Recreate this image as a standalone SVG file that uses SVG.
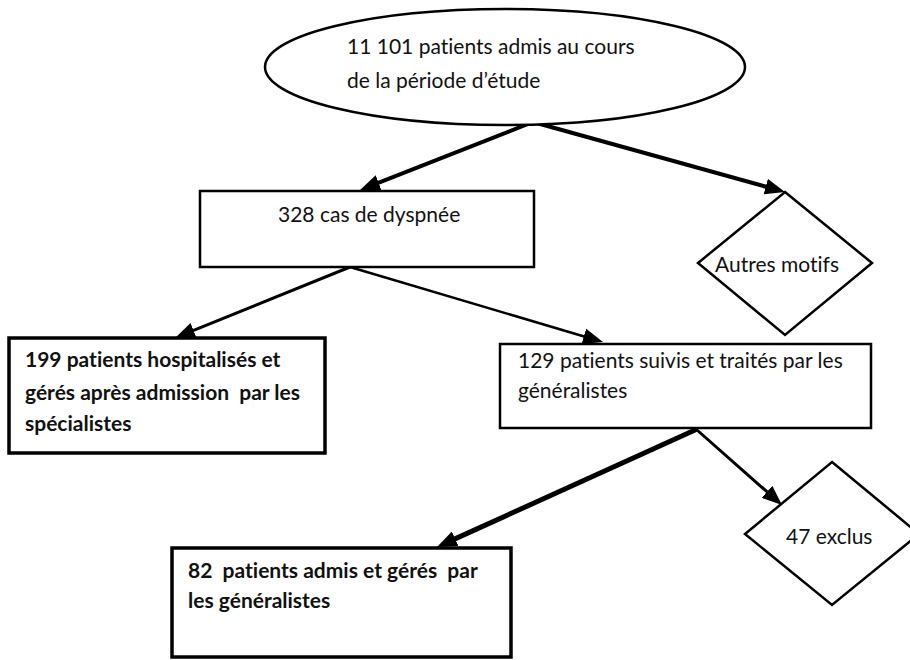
<svg xmlns="http://www.w3.org/2000/svg" width="910" height="660" viewBox="0 0 910 660">
<defs>
<style>
.shape{fill:#fff;stroke:#000;stroke-width:2.5}
.thick{stroke-width:3.5}
.t{font-family:Lato,"Liberation Sans",sans-serif;font-size:21px;fill:#111;white-space:pre;font-variant-ligatures:none}
.b{font-weight:bold}
.c{stroke:#000;fill:none;stroke-linecap:round}
</style>
<marker id="ah" viewBox="0 0 20 16" refX="10" refY="8" markerWidth="20" markerHeight="16" markerUnits="userSpaceOnUse" orient="auto">
<path d="M0,0 L20,8 L0,16 z" fill="#000"/>
</marker>
</defs>
<rect width="910" height="660" fill="#fff"/>
<g id="connectors">
<line class="c" x1="533" y1="122" x2="369.3" y2="186.4" stroke-width="4" marker-end="url(#ah)"/>
<line class="c" x1="533" y1="122" x2="775.4" y2="189.3" stroke-width="4" marker-end="url(#ah)"/>
<line class="c" x1="350" y1="267" x2="184.3" y2="334.2" stroke-width="3" marker-end="url(#ah)"/>
<line class="c" x1="350" y1="267" x2="593.4" y2="339.2" stroke-width="2.5" marker-end="url(#ah)"/>
<line class="c" x1="695" y1="430" x2="446.1" y2="542.9" stroke-width="5" marker-end="url(#ah)"/>
<line class="c" x1="697" y1="430" x2="774.5" y2="498.4" stroke-width="3" marker-end="url(#ah)"/>
</g>
<g id="n-admis">
<ellipse class="shape" cx="505" cy="67" rx="240" ry="58"/>
<text class="t" x="347" y="54">11 101 patients admis au cours</text>
<text class="t" x="347" y="88">de la période d’étude</text>
</g>
<g id="n-dyspnee">
<rect class="shape" x="200" y="191" width="334" height="76"/>
<text class="t" x="278" y="222">328 cas de dyspnée</text>
</g>
<g id="n-autres">
<polygon class="shape" points="785,192 872,263 785,335 698,263"/>
<text class="t" x="715" y="272">Autres motifs</text>
</g>
<g id="n-specialistes">
<rect class="shape thick" x="9" y="338" width="316" height="115"/>
<text class="t b" x="25" y="367">199 patients hospitalisés et</text>
<text class="t b" x="25" y="400">gérés après admission  par les</text>
<text class="t b" x="25" y="431">spécialistes</text>
</g>
<g id="n-generalistes">
<rect class="shape" x="500" y="344" width="371" height="84"/>
<text class="t" x="518" y="368">129 patients suivis et traités par les</text>
<text class="t" x="518" y="398">généralistes</text>
</g>
<g id="n-exclus">
<polygon class="shape" points="832,462 919,534 832,605 745,534"/>
<text class="t" x="786" y="544">47 exclus</text>
</g>
<g id="n-admis-generalistes">
<rect class="shape thick" x="172" y="548" width="339" height="109"/>
<text class="t b" x="188" y="578">82  patients admis et gérés  par</text>
<text class="t b" x="188" y="608">les généralistes</text>
</g>
</svg>
